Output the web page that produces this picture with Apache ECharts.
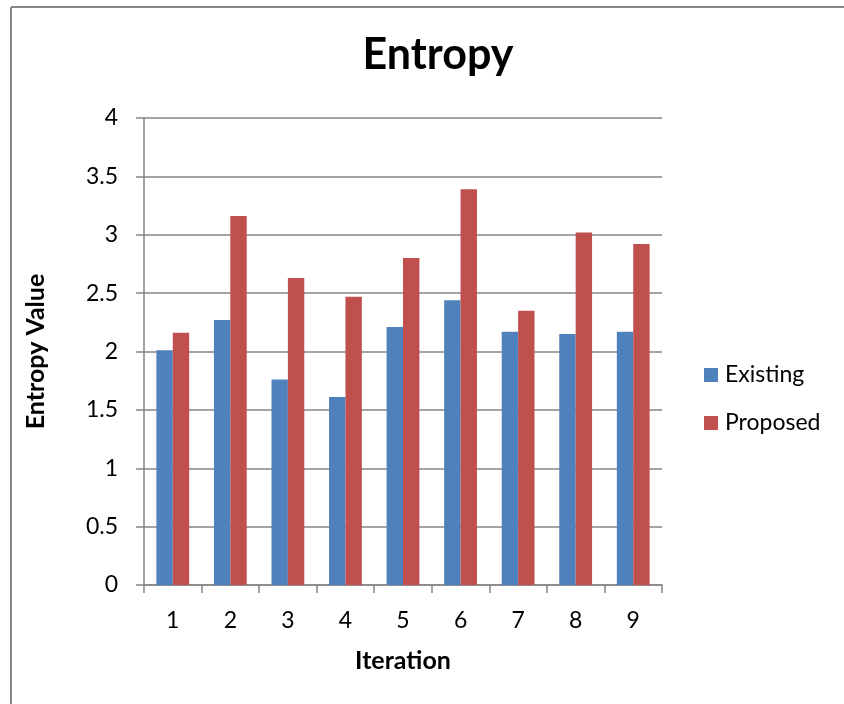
<!DOCTYPE html>
<html>
<head>
<meta charset="utf-8">
<script src="https://cdn.jsdelivr.net/npm/echarts@6/dist/echarts.min.js"></script>
<style>html,body{margin:0;padding:0;background:#fff;overflow:hidden}#c{width:844px;height:704px}</style>
</head>
<body>
<div id="c"></div>
<script>
const categories = ['1','2','3','4','5','6','7','8','9'];
const existing = [2.01, 2.27, 1.76, 1.61, 2.21, 2.44, 2.17, 2.15, 2.17];
const proposed = [2.16, 3.16, 2.63, 2.47, 2.80, 3.39, 2.35, 3.02, 2.92];
const seriesNames = ['Existing', 'Proposed'];
const titleText = 'Entropy';
const xName = 'Iteration';
const yName = 'Entropy Value';

const FONT = 'Lato';
const chart = echarts.init(document.getElementById('c'), null, {renderer: 'canvas'});
chart.setOption({
  backgroundColor: '#fff',
  animation: false,
  graphic: [
    {type: 'line', shape: {x1: 11, y1: 7, x2: 844, y2: 7},
     style: {stroke: '#878787', lineWidth: 2, lineCap: 'butt'}, silent: true},
    {type: 'line', shape: {x1: 11, y1: 7, x2: 11, y2: 704},
     style: {stroke: '#878787', lineWidth: 2, lineCap: 'butt'}, silent: true}
  ],
  title: {
    text: titleText, left: 433, top: 29, textAlign: 'center',
    textStyle: {fontFamily: FONT, fontSize: 43, fontWeight: 'bold', color: '#000'}
  },
  legend: {
    orient: 'vertical', left: 704, top: 363, padding: 0, itemWidth: 14, itemHeight: 14, itemGap: 24,
    icon: 'rect',
    textStyle: {fontFamily: FONT, fontSize: 23, color: '#000', lineHeight: 24, padding: [0,0,0,2]},
    data: seriesNames
  },
  grid: {left: 144, right: 182, top: 118, bottom: 119, containLabel: false},
  xAxis: {
    type: 'category', data: categories, name: xName, nameLocation: 'middle', nameGap: 63,
    nameTextStyle: {fontFamily: FONT, fontSize: 25, fontWeight: 'bold', color: '#000'},
    axisLine: {lineStyle: {color: '#868686', width: 1.5}},
    axisTick: {show: true, length: 8, lineStyle: {color: '#868686', width: 1.5}},
    axisLabel: {fontFamily: FONT, fontSize: 23, color: '#000', margin: 24}
  },
  yAxis: {
    type: 'value', min: 0, max: 4, interval: 0.5, name: yName, nameLocation: 'middle', nameGap: 96,
    nameTextStyle: {fontFamily: FONT, fontSize: 25, fontWeight: 'bold', color: '#000'},
    axisLine: {show: true, lineStyle: {color: '#868686', width: 1.5}},
    axisTick: {show: true, length: 8, lineStyle: {color: '#868686', width: 1.5}},
    axisLabel: {fontFamily: FONT, fontSize: 23, color: '#000', margin: 26},
    splitLine: {show: true, lineStyle: {color: '#868686', width: 1.5}}
  },
  series: [
    {name: seriesNames[0], type: 'bar', data: existing, barGap: '0%', barCategoryGap: '43%',
     itemStyle: {color: '#4F81BD'}},
    {name: seriesNames[1], type: 'bar', data: proposed, barGap: '0%', barCategoryGap: '43%',
     itemStyle: {color: '#C0504D'}}
  ]
});
</script>
</body>
</html>
